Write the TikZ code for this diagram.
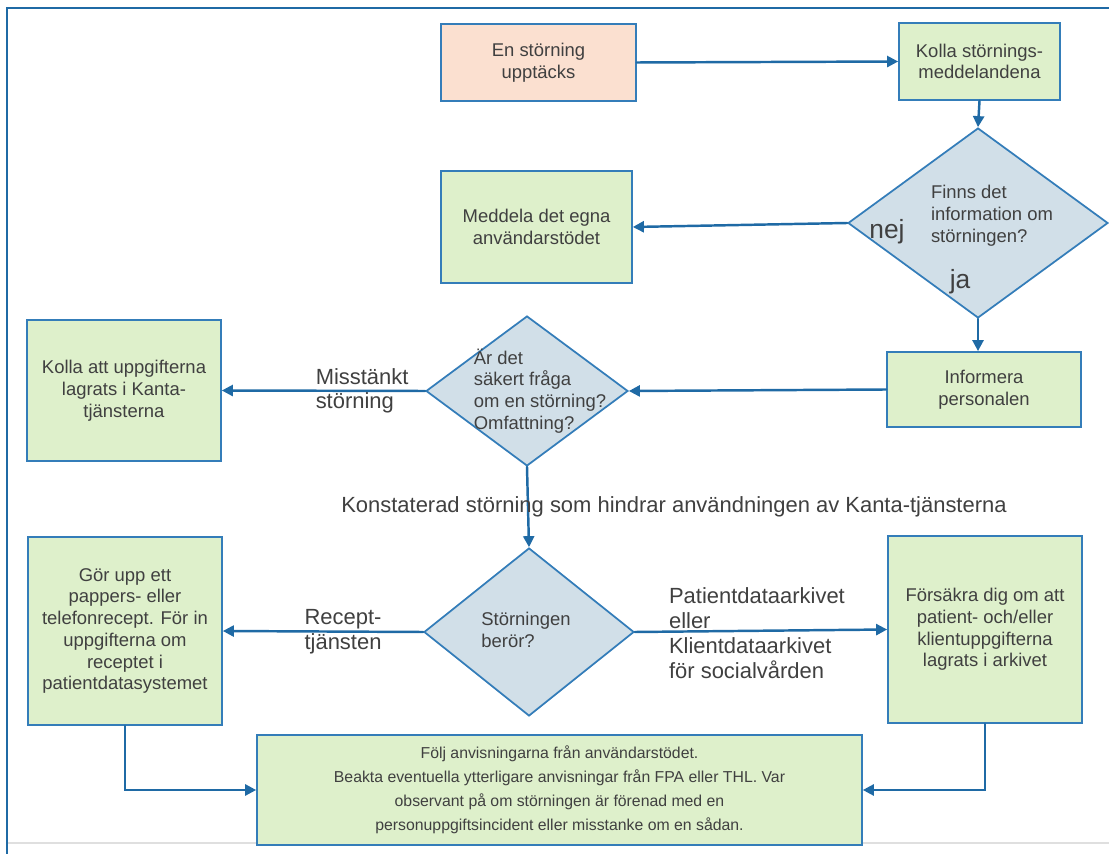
\documentclass[tikz,border=0pt]{standalone}
\usepackage{fontspec}
\setmainfont{Liberation Sans}
\usetikzlibrary {arrows.meta}
\usetikzlibrary {shapes.geometric}

\definecolor{flowblue}{RGB}{31,106,165}
\definecolor{boxline}{RGB}{52,125,185}
\definecolor{boxgreen}{RGB}{222,240,203}
\definecolor{diamondfill}{RGB}{209,223,232}
\definecolor{peach}{RGB}{251,224,208}
\definecolor{textgray}{RGB}{64,64,64}

\begin{document}
\begin{tikzpicture}[x=0.02cm, y=-0.02cm, line cap=round,
    box/.style={draw=boxline, line width=1pt, fill=boxgreen, text=textgray, align=center,
        inner sep=0pt, font=\fontsize{10.5}{12.4}\selectfont},
    choice/.style={diamond, draw=boxline, line width=1pt, fill=diamondfill, inner sep=0pt},
    choicetext/.style={text=textgray, align=left, inner sep=0pt, font=\fontsize{10.5}{12.4}\selectfont},
    flow/.style={flowblue, line width=1.4pt, -{Triangle[length=2.2mm, width=2.2mm]}},
    edgetext/.style={text=textgray, align=left, inner sep=0pt, font=\fontsize{12.5}{14.2}\selectfont}]

    \useasboundingbox (0,0) rectangle (1109,854);

    % frame
    \draw[gray!25, line width=0.6pt] (8,843) -- (1109,843);
    \draw[flowblue, line width=1.3pt] (7,854) -- (7,8) -- (1109,8);

    % boxes
    \node[box, fill=peach, minimum width=3.9cm, minimum height=1.54cm] (upptack) at (538.5,62.5) {En störning\\ upptäcks};
    \node[box, minimum width=3.22cm, minimum height=1.54cm] (kolla) at (979.5,61.5) {Kolla störnings-\\ meddelandena};
    \node[choice, minimum width=5.2cm, minimum height=3.8cm] (finns) at (978,223) {};
    \node[choicetext] (finnstext) at (992,216) {Finns det\\ information om\\ störningen?};
    \node[text=textgray, font=\fontsize{15}{17}\selectfont] (nej) at (887,232) {nej};
    \node[text=textgray, font=\fontsize{15}{17}\selectfont] (ja) at (960,282) {ja};
    \node[box, minimum width=3.82cm, minimum height=2.24cm] (meddela) at (536.5,227) {Meddela det egna\\ användarstödet};
    \node[box, minimum width=3.88cm, minimum height=1.5cm] (informera) at (984,389.5) {Informera\\ personalen};
    \node[choice, minimum width=4.04cm, minimum height=3cm] (saker) at (527,391) {};
    \node[choicetext] (sakertext) at (540,391) {Är det\\ säkert fråga\\ om en störning?\\ Omfattning?};
    \node[box, minimum width=3.88cm, minimum height=2.82cm] (lagrats) at (124,390.5) {Kolla att uppgifterna\\ lagrats i Kanta-\\ tjänsterna};
    \node[choice, minimum width=4.2cm, minimum height=3.36cm] (beror) at (529,632) {};
    \node[choicetext] (berortext) at (526,630) {Störningen\\ berör?};
    \node[box, minimum width=3.88cm, minimum height=3.76cm] (recept) at (125,631) {Gör upp ett\\ pappers- eller\\ telefonrecept. För in\\ uppgifterna om\\ receptet i\\ patientdatasystemet};
    \node[box, minimum width=3.88cm, minimum height=3.74cm] (arkiv) at (985,629.5) {Försäkra dig om att\\ patient- och/eller\\ klientuppgifterna\\ lagrats i arkivet};
    \node[box, minimum width=12.1cm, minimum height=2.2cm, font=\fontsize{9}{13.6}\selectfont] (anvisning) at (559.5,790) {Följ anvisningarna från användarstödet.\\ Beakta eventuella ytterligare anvisningar från FPA eller THL. Var\\ observant på om störningen är förenad med en\\ personuppgiftsincident eller misstanke om en sådan.};

    % connectors
    \draw[flow] (upptack.east) -- (kolla.west);
    \draw[flow] (kolla.south) -- (finns.north);
    \draw[flow] (finns.west) -- (meddela.east);
    \draw[flow] (finns.south) -- (finns.south |- informera.north);
    \draw[flow] (informera.west) -- (saker.east);
    \draw[flow] (saker.west) -- node[edgetext, pos=0.31] {Misstänkt\\ störning} (lagrats.east);
    \draw[flow] (saker.south) -- node[edgetext, pos=0.5, xshift=2.92cm] {Konstaterad störning som hindrar användningen av Kanta-tjänsterna} (beror.north);
    \draw[flow] (beror.west) -- node[edgetext, pos=0.4] {Recept-\\ tjänsten} (recept.east);
    \draw[flow] (beror.east) -- node[edgetext, pos=0.484, yshift=-0.04cm] {Patientdataarkivet\\ eller\\ Klientdataarkivet\\ för socialvården} (arkiv.west);
    \draw[flow] (recept.south) |- (anvisning.west);
    \draw[flow] (arkiv.south) |- (anvisning.east);

\end{tikzpicture}
\end{document}
